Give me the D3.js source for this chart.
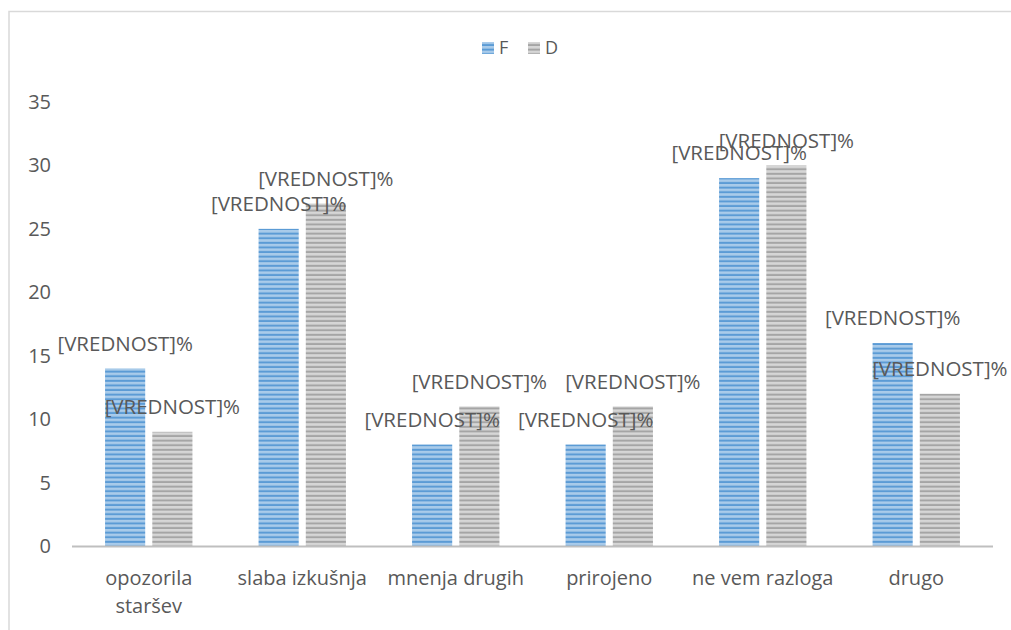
<!DOCTYPE html>
<meta charset="utf-8">
<body style="margin:0;background:#fff">
<svg id="chart" width="1011" height="630"></svg>
</body>
<style>
  text { font-family: "Open Sans", "Liberation Sans", sans-serif; fill: #595959; }
</style>
<script src="https://d3js.org/d3.v7.min.js"></script>
<script>
// podatki
var kategorije = [["opozorila", "staršev"], ["slaba izkušnja"], ["mnenja drugih"], ["prirojeno"], ["ne vem razloga"], ["drugo"]];
var serije = ["F", "D"];
var vrednostiF = [14, 25, 8, 8, 29, 16];
var vrednostiD = [9, 27, 11, 11, 30, 12];
var yTicks = [0, 5, 10, 15, 20, 25, 30, 35];
var oznaka = "[VREDNOST]%";

var svg = d3.select("#chart");
var margin = {left: 72, right: 1011 - 993, top: 102, bottom: 630 - 546};

// okvir
svg.append("path")
    .attr("d", "M9,640 V11.5 H1011")
    .attr("fill", "none")
    .attr("stroke", "#d9d9d9")
    .attr("stroke-width", 1.5);

// vzorci s črtami
var defs = svg.append("defs");
function vzorec(id, osnova, crta) {
  var p = defs.append("pattern")
      .attr("id", id)
      .attr("patternUnits", "userSpaceOnUse")
      .attr("width", 10).attr("height", 4.6);
  p.append("rect").attr("width", 10).attr("height", 4.6).attr("fill", osnova);
  p.append("rect").attr("y", 2.6).attr("width", 10).attr("height", 2).attr("fill", crta);
}
vzorec("vzF", "#a9cbea", "#5b9bd5");
vzorec("vzD", "#d6d6d6", "#a5a5a5");
var barve = {F: "url(#vzF)", D: "url(#vzD)"};

var x = d3.scaleBand()
    .domain(d3.range(kategorije.length))
    .range([margin.left, 1011 - margin.right]);

var x1 = d3.scaleBand()
    .domain(serije)
    .range([0, x.bandwidth()])
    .paddingInner(0.15)
    .paddingOuter(0.7);

var y = d3.scaleLinear()
    .domain([0, 35])
    .range([630 - margin.bottom, margin.top]);

// os y - oznake
svg.append("g")
  .selectAll("text")
  .data(yTicks)
  .enter().append("text")
    .attr("x", 51)
    .attr("y", d => y(d))
    .attr("dy", "0.35em")
    .attr("text-anchor", "end")
    .style("font-size", "20px")
    .text(d => d);

// legenda
var leg = svg.append("g");
serije.forEach(function(s, i) {
  leg.append("rect")
      .attr("x", 482 + i * 46).attr("y", 42)
      .attr("width", 12).attr("height", 12)
      .attr("fill", barve[s]);
  leg.append("text")
      .attr("x", 499 + i * 46).attr("y", 48)
      .attr("dy", "0.35em")
      .style("font-size", "18px")
      .text(s);
});

// stolpci
var podatki = kategorije.map(function(k, i) {
  return [{s: "F", v: vrednostiF[i]}, {s: "D", v: vrednostiD[i]}];
});

var skupine = svg.append("g")
  .selectAll("g")
  .data(podatki)
  .enter().append("g")
    .attr("transform", (d, i) => "translate(" + x(i) + ",0)");

skupine.selectAll("rect")
  .data(d => d)
  .enter().append("rect")
    .attr("x", d => x1(d.s))
    .attr("y", d => y(d.v))
    .attr("width", x1.bandwidth())
    .attr("height", d => y(0) - y(d.v))
    .attr("fill", d => barve[d.s]);

// os x
svg.append("line")
    .attr("x1", margin.left).attr("x2", 1011 - margin.right)
    .attr("y1", y(0) + 0.5).attr("y2", y(0) + 0.5)
    .attr("stroke", "#bfbfbf")
    .attr("stroke-width", 2);

// oznake podatkov
skupine.selectAll("text.oznaka")
  .data(d => d)
  .enter().append("text")
    .attr("class", "oznaka")
    .attr("x", d => x1(d.s) + x1.bandwidth() / 2)
    .attr("y", d => y(d.v) - 25)
    .attr("dy", "0.35em")
    .attr("text-anchor", "middle")
    .style("font-size", "20.5px")
    .text(oznaka);

// oznake kategorij
svg.append("g")
  .selectAll("text")
  .data(kategorije)
  .enter().append("text")
    .attr("x", (d, i) => x(i) + x.bandwidth() / 2)
    .attr("y", 578)
    .attr("text-anchor", "middle")
    .style("font-size", "20px")
    .each(function(d) {
      var t = d3.select(this);
      d.forEach(function(vrstica, j) {
        t.append("tspan")
            .attr("x", t.attr("x"))
            .attr("dy", j === 0 ? "0.35em" : "28px")
            .text(vrstica);
      });
    });
</script>
